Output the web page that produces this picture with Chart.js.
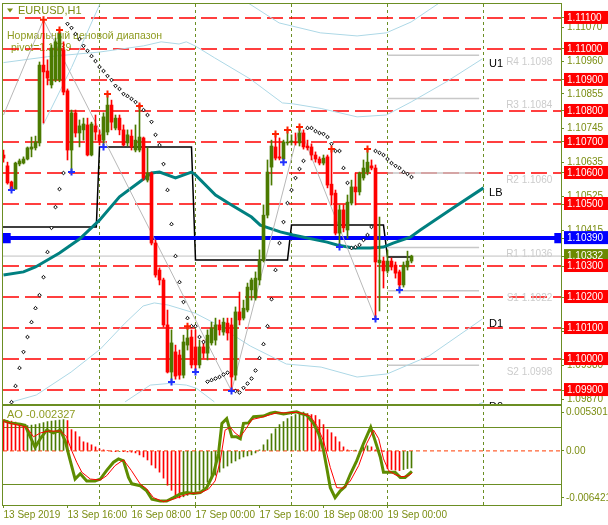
<!DOCTYPE html>
<html>
<head>
<meta charset="utf-8">
<script src="https://cdn.jsdelivr.net/npm/chart.js@4/dist/chart.umd.min.js"></script>
<style>
  html, body { margin: 0; padding: 0; background: #fff; }
  #wrap { position: relative; width: 608px; height: 525px; overflow: hidden; }
  #main { position: absolute; left: 0; top: 0; }
  #osc { position: absolute; left: 0; top: 405px; background: #fff; }
</style>
</head>
<body>
<div id="wrap">
  <canvas id="main" width="608" height="405"></canvas>
  <canvas id="osc" width="608" height="120"></canvas>
</div>
<script>
// EURUSD H1, 13 Sep 00:00 .. 19 Sep 05:00 (bar index 0..102)
const openP = [1.10658,1.10623,1.10571,1.10548,1.10629,1.10632,1.10645,1.10677,1.10681,1.10697,
  1.10948,1.10929,1.10884,1.10900,1.10900,1.10997,1.10865,1.10674,1.10794,1.10729,
  1.10739,1.10755,1.10658,1.10752,1.10723,1.10706,1.10732,1.10819,1.10745,1.10777,
  1.10739,1.10697,1.10719,1.10674,1.10674,1.10713,1.10577,1.10600,1.10374,1.10287,
  1.10255,1.10110,1.09958,1.10023,1.10013,1.09948,1.10045,1.10071,1.10039,1.09981,
  1.10039,1.10019,1.10052,1.10061,1.10110,1.10087,1.10116,1.10110,1.09948,1.10152,
  1.10132,1.10158,1.10223,1.10197,1.10255,1.10319,1.10464,1.10619,1.10684,1.10652,
  1.10645,1.10697,1.10700,1.10700,1.10697,1.10729,1.10687,1.10684,1.10658,1.10645,
  1.10632,1.10652,1.10564,1.10535,1.10406,1.10481,1.10416,1.10503,1.10555,1.10539,
  1.10584,1.10603,1.10623,1.10616,1.10310,1.10316,1.10284,1.10316,1.10303,1.10281,
  1.10239,1.10297,1.10316];
const highP = [1.10674,1.10635,1.10574,1.10635,1.10645,1.10652,1.10684,1.10716,1.10719,1.10958,
  1.11094,1.10965,1.11013,1.11035,1.11061,1.11023,1.10871,1.10803,1.10803,1.10771,
  1.10777,1.10777,1.10764,1.10787,1.10739,1.10794,1.10855,1.10835,1.10787,1.10787,
  1.10755,1.10739,1.10739,1.10755,1.10816,1.10716,1.10681,1.10603,1.10384,1.10294,
  1.10261,1.10158,1.10094,1.10045,1.10029,1.10077,1.10106,1.10094,1.10094,1.10061,
  1.10061,1.10094,1.10119,1.10132,1.10126,1.10132,1.10132,1.10132,1.10168,1.10216,
  1.10190,1.10245,1.10261,1.10281,1.10352,1.10497,1.10642,1.10706,1.10726,1.10713,
  1.10706,1.10739,1.10723,1.10729,1.10748,1.10739,1.10706,1.10694,1.10668,1.10652,
  1.10658,1.10658,1.10677,1.10545,1.10497,1.10497,1.10529,1.10577,1.10600,1.10603,
  1.10642,1.10677,1.10642,1.10626,1.10458,1.10329,1.10352,1.10326,1.10313,1.10287,
  1.10313,1.10348,1.10335];
const lowP = [1.10635,1.10564,1.10545,1.10548,1.10623,1.10629,1.10642,1.10652,1.10674,1.10687,
  1.10761,1.10884,1.10874,1.10894,1.10894,1.10852,1.10642,1.10603,1.10716,1.10684,
  1.10706,1.10655,1.10655,1.10706,1.10690,1.10684,1.10723,1.10739,1.10739,1.10723,
  1.10687,1.10687,1.10674,1.10668,1.10668,1.10577,1.10571,1.10368,1.10264,1.10239,
  1.10103,1.09955,1.09926,1.09935,1.09935,1.09939,1.10029,1.09971,1.09958,1.09971,
  1.10003,1.09997,1.10045,1.10045,1.10077,1.10077,1.10061,1.09897,1.09932,1.10110,
  1.10126,1.10152,1.10190,1.10190,1.10239,1.10313,1.10455,1.10561,1.10642,1.10642,
  1.10635,1.10690,1.10690,1.10690,1.10687,1.10677,1.10674,1.10642,1.10635,1.10626,
  1.10626,1.10552,1.10497,1.10400,1.10361,1.10410,1.10390,1.10497,1.10497,1.10529,
  1.10577,1.10594,1.10610,1.10129,1.10155,1.10229,1.10277,1.10287,1.10261,1.10223,
  1.10232,1.10287,1.10310];
const closeP = [1.10648,1.10568,1.10548,1.10632,1.10639,1.10645,1.10681,1.10684,1.10700,1.10948,
  1.10926,1.10906,1.11003,1.11023,1.11052,1.10861,1.10674,1.10794,1.10729,1.10752,
  1.10758,1.10658,1.10758,1.10732,1.10703,1.10781,1.10819,1.10764,1.10777,1.10739,
  1.10690,1.10723,1.10684,1.10706,1.10716,1.10584,1.10600,1.10374,1.10271,1.10255,
  1.10110,1.09958,1.10052,1.09945,1.09948,1.10055,1.10068,1.09981,1.09981,1.10039,
  1.10019,1.10077,1.10100,1.10110,1.10094,1.10119,1.10084,1.09942,1.10152,1.10126,
  1.10164,1.10232,1.10255,1.10261,1.10319,1.10464,1.10603,1.10687,1.10648,1.10648,
  1.10700,1.10700,1.10703,1.10697,1.10729,1.10684,1.10681,1.10658,1.10645,1.10632,
  1.10648,1.10561,1.10529,1.10406,1.10481,1.10423,1.10506,1.10555,1.10539,1.10600,
  1.10616,1.10635,1.10616,1.10313,1.10319,1.10284,1.10316,1.10297,1.10277,1.10239,
  1.10303,1.10316,1.10332];

// parabolic SAR dots
const sarP = [null,null,1.09861,1.09913,1.09971,1.10023,1.10071,1.10119,1.10164,1.10206,
  1.10264,1.10345,1.10423,1.10490,1.10548,1.10600,1.11081,1.11068,1.11048,1.11032,
  1.11010,1.10994,1.10977,1.10961,1.10942,1.10929,1.10913,1.10900,1.10881,1.10871,
  1.10855,1.10848,1.10839,1.10829,1.10816,1.10803,1.10787,1.10765,1.10723,1.10690,
  1.10629,1.10545,1.10435,1.10332,1.10248,1.10184,1.10132,1.10106,1.10106,1.10071,
  1.10055,1.09927,1.09932,1.09937,1.09942,1.09950,1.09956,null,1.09897,1.09892,
  1.09907,1.09921,1.09937,1.09963,1.10003,1.10048,1.10106,1.10193,1.10287,1.10374,
  1.10442,1.10503,1.10545,1.10584,1.10613,1.10639,1.10745,1.10745,1.10735,1.10729,
  1.10726,1.10716,1.10694,1.10671,1.10671,1.10616,1.10568,1.10358,1.10361,1.10368,
  1.10384,1.10400,1.10426,1.10671,1.10665,1.10658,1.10645,1.10632,1.10623,1.10616,
  1.10603,1.10597,1.10587];

const fractUpIdx = [10,14,26,34,46,68,71,74,82,91];
const fractDnIdx = [2,17,25,42,48,57,70,84,93,99];

// moving average and channel lines: [bar index, price]
const maLine = [[0,1.10271],[5,1.10281],[8,1.10297],[14,1.10342],[19,1.10387],[24,1.10448],[29,1.10523],
  [34,1.10571],[37,1.10600],[39,1.10603],[43,1.10584],[47,1.10603],[48,1.10594],[53,1.10529],[57,1.10497],
  [62,1.10458],[64.2,1.10432],[69.2,1.10410],[72.4,1.10400],[80.9,1.10377],[83.4,1.10368],[87.4,1.10358],
  [91.7,1.10358],[95,1.10361],[97.4,1.10374],[101.7,1.10393],[104.2,1.10416],[112,1.10484],[120,1.10552]];
const bandU1 = [[0,1.10956],[11,1.10975],[24,1.10990],[35,1.11010],[39.4,1.11023],[43.9,1.11016],[45.7,1.11023],
  [47.9,1.11010],[52.7,1.10972],[61.7,1.10903],[69.7,1.10826],[72.4,1.10823],[79.4,1.10808],[88.4,1.10781],
  [95.7,1.10787],[101.9,1.10829],[110.7,1.10894],[119.7,1.10968]];
const bandU2 = [[9.9,1.10755],[17,1.10940],[24.2,1.11148],[27,null],[60.7,1.11152],[68.9,1.11084],[79.2,1.11052],
  [88.4,1.11042],[95.7,1.11052],[101.9,1.11087],[108.9,1.11148]];
const bandD1 = [[1.9,1.09861],[8.2,1.09884],[16.9,1.09958],[24.2,1.10032],[30.4,1.10116],[34.9,1.10171],
  [37.7,1.10181],[41.2,1.10174],[47.9,1.10148],[52.7,1.10116],[61.7,1.10042],[70.7,1.09984],[79.4,1.09974],
  [88.4,1.09942],[95.9,1.09952],[106.4,1.10010],[119.7,1.10129]];
const bandD0 = [[30.4,1.09862],[36.7,1.09916],[41.2,1.09921],[45.7,1.09916],[48.2,1.09906],[52.7,1.09862],
  [53,null],[118.9,1.09856],[120,1.09860]];
const dayBox = [[-0.125,1.10426],[23.2,1.10426],[24,1.10684],[47,1.10684],[48,1.10319],[71,1.10319],
  [72,1.10432],[95,1.10432],[96,1.10329],[102,1.10329]];
const zigzag = [[0,1.10787],[10,1.11094],[57,1.09897],[74,1.10748],[93,1.10129]];

const pivotLevels = [1.111,1.110,1.109,1.108,1.107,1.106,1.105,1.103,1.102,1.101,1.100,1.099];
const priceTicks = [1.11070,1.10960,1.10855,1.10745,1.10635,1.10525,1.10415,1.10090,1.09980,1.09870];
const dayPivot = 1.10390;
const lastPrice = 1.10332;
const pivotNames = ['R4','R3','R2','R1','S1','S2'];
const pivotVals = [1.1098,1.1084,1.1060,1.1036,1.1022,1.0998];

const dayLineIdx = [24,48,72,96,120];
const timeTickIdx = [0,16,32,48,64,80,96];
const timeTickLabels = ['13 Sep 2019','13 Sep 16:00','16 Sep 08:00','17 Sep 00:00','17 Sep 16:00','18 Sep 08:00','19 Sep 00:00'];

// Awesome oscillator and stochastic
const aoVals = [0.00427,0.00414,0.00407,0.00393,0.00372,0.00331,0.00345,0.00352,0.00359,0.00372,
  0.00386,0.00400,0.00407,0.00414,0.00421,0.00427,0.00414,0.00290,0.00262,0.00193,
  0.00124,0.00110,0.00083,0.00055,0.00028,0.00014,0.00007,-0.00007,-0.00011,-0.00008,
  -0.00011,-0.00014,-0.00018,-0.00028,-0.00055,-0.00083,-0.00124,-0.00193,-0.00234,-0.00290,
  -0.00372,-0.00469,-0.00538,-0.00607,-0.006421,-0.00627,-0.00607,-0.00579,-0.00565,-0.00538,
  -0.00510,-0.00427,-0.00372,-0.00331,-0.00290,-0.00234,-0.00207,-0.00165,-0.00138,-0.00110,
  -0.00083,-0.00069,-0.00055,-0.00028,0.00014,0.00083,0.00152,0.00234,0.00303,0.00359,
  0.00400,0.00441,0.00469,0.00496,0.00510,0.005301,0.00510,0.00496,0.00483,0.00427,
  0.00359,0.00290,0.00248,0.00193,0.00124,0.00055,0.00014,0.00007,0.00010,-0.00007,
  0.00055,0.00069,0.00055,0.00014,0.00004,-0.00007,-0.00241,-0.00255,-0.00262,-0.00269,
  -0.00255,-0.00241,-0.002327];
const stochMain = [[0,87],[1.7,84.5],[4.2,83],[5.4,82],[6.7,70],[7.9,59],[9.2,68],[10.8,77],[12.5,74],[14.2,77],
  [15.4,66],[16.7,45],[17.9,26],[19.2,31.6],[20.8,24],[22.9,24],[24.2,26],[25.8,35],[27.5,43.5],[28.75,47],
  [30,45],[31.25,27.7],[32.1,21],[34.2,19],[35.8,13.7],[37.1,5],[39.2,3],[40.8,3],[42.5,6.6],[44.2,10.5],
  [45.8,12],[47.5,11],[49.2,12],[50.8,17],[52.5,31.6],[53.75,52.6],[54.6,84],[55.8,89],[57.1,70],[58.3,70],
  [59.2,68],[60,84],[61.25,84.5],[62.5,91],[65,91.6],[66.7,94.7],[67.9,95.5],[70,93.7],[71.7,95],[73.3,96],
  [74.2,94.4],[75.8,92.6],[77.5,84],[78.8,73],[80,56],[80.8,38],[81.7,17],[82.9,6.6],[84.2,13.7],[85.4,18],
  [86.7,31],[88.3,45],[90,63],[91.8,80],[92.9,66],[94.2,49],[95,33],[96.3,33],[97.9,33],[99.2,27.7],
  [100.4,27.7],[102.1,34]];
const stochSignal = [[0,86],[5.8,80],[7.5,70],[9.2,74],[11.25,76],[14.2,76],[15.8,70],[17,56],[18.3,43.5],[19.6,33],
  [21.7,26],[24.2,25],[25.8,29.5],[27.9,40],[30,46],[32,34.7],[34.2,20.7],[35.8,15.8],[37.5,6.6],[40,2.4],
  [42.5,5],[44.6,8.4],[46.7,11],[49.2,11.6],[51.25,15.5],[52.9,24],[54.2,45],[55.4,77],[56.7,80],[57.9,74],
  [59.2,70],[60.4,77],[62.1,88],[64.2,90],[66.7,93],[68.3,95],[70.8,95],[73.3,95.5],[74.2,95],[76.7,91.6],
  [78.3,82],[80,66],[81.7,38],[83.3,17],[85,16.5],[86.7,24],[88.8,40],[90.8,63],[92.5,77],[93.8,68],
  [95,47],[96.3,34.7],[97.9,30.5],[99.6,28.4],[101.3,29.5],[102.1,32]];
const stochLevels = [80, 20];
const aoTickVals = [0.005301, 0, -0.006421];
const aoTickLabels = ['0.005301', '0.00', '-0.006421'];

const XMIN = -0.125, XMAX = 139.375;
const OLIVE = '#6b8e23';
const TXT = '#7b8d12';
const UP = '#4b7a00';
const DN = '#ff0000';

Chart.defaults.font.family = '"Liberation Sans", Arial, sans-serif';
Chart.defaults.font.size = 10;

const toXY = arr => arr.map(p => ({ x: p[0], y: p[1] }));
const near = (a, b) => Math.abs(a - b) < 1e-7;
const candleCol = openP.map((o, i) => closeP[i] >= o ? UP : DN);

function hLines(vals, x0, x1) {
  const out = [];
  vals.forEach(v => out.push({ x: x0, y: v }, { x: x1, y: v }, { x: x1, y: null }));
  return out;
}

function boxColor(v) {
  if (near(v, dayPivot)) return '#0000ff';
  if (near(v, lastPrice)) return '#6b8a00';
  if (pivotLevels.some(p => near(p, v))) return '#ff0000';
  return 'rgba(0,0,0,0)';
}

// keep the plot area where the layout padding puts it
function fitY(width) {
  return s => { s.width = width; s.paddingTop = 0; s.paddingBottom = 0; };
}
function fitX(height) {
  return s => { s.height = height; s.paddingLeft = 0; s.paddingRight = 0; };
}

const framePlugin = {
  id: 'frame',
  afterDraw(chart) {
    const { ctx, chartArea: a } = chart;
    ctx.save();
    ctx.strokeStyle = OLIVE;
    ctx.lineWidth = 1;
    ctx.strokeRect(a.left - 0.5, a.top - 0.5, a.right - a.left + 1, a.bottom - a.top + 1);
    ctx.restore();
  }
};

const mainNotes = {
  id: 'mainNotes',
  beforeDatasetsDraw(chart) {
    const ctx = chart.ctx;
    ctx.save();
    ctx.fillStyle = TXT;
    ctx.beginPath();
    ctx.moveTo(7, 8.5); ctx.lineTo(13, 8.5); ctx.lineTo(10, 12.5); ctx.closePath();
    ctx.fill();
    ctx.font = '11px "Liberation Sans", Arial, sans-serif';
    ctx.textBaseline = 'middle';
    ctx.fillText('EURUSD,H1', 18, 10.5);
    ctx.fillStyle = '#8f9c22';
    ctx.font = '10.5px "Liberation Sans", Arial, sans-serif';
    ctx.fillText('Нормальный ценовой диапазон', 7, 36);
    ctx.fillText('pivot=' + dayPivot.toFixed(4), 11, 48);
    ctx.restore();
  },
  afterDatasetsDraw(chart) {
    const { ctx, scales: { x, y } } = chart;
    ctx.save();
    ctx.font = '10px "Liberation Sans", Arial, sans-serif';
    ctx.fillStyle = '#cccccc';
    ctx.textAlign = 'right';
    ctx.textBaseline = 'top';
    pivotNames.forEach((n, i) => {
      ctx.fillText(n + ' ' + pivotVals[i].toFixed(4), x.getPixelForValue(137.2), y.getPixelForValue(pivotVals[i]) + 2);
    });
    ctx.font = '11px "Liberation Sans", Arial, sans-serif';
    ctx.fillStyle = '#000';
    ctx.textAlign = 'left';
    ctx.textBaseline = 'middle';
    const tags = [['U1', bandU1], ['LB', maLine], ['D1', bandD1], ['D0', bandD0]];
    tags.forEach(([t, line]) => {
      const last = line[line.length - 1];
      ctx.fillText(t, x.getPixelForValue(121.4), y.getPixelForValue(last[1]) + 5);
    });
    ctx.restore();
  }
};

const lineDs = (data, color, width, order, extra) => Object.assign({
  type: 'line', data: data, borderColor: color, borderWidth: width, pointRadius: 0,
  fill: false, tension: 0, order: order, spanGaps: false
}, extra || {});

new Chart('main', {
  type: 'bar',
  data: {
    datasets: [
      lineDs(fractUpIdx.map(i => ({ x: i, y: highP[i] })), DN, 2, 0,
        { showLine: false, pointRadius: 3.5, pointStyle: 'cross', pointBorderColor: '#ff2000', pointBorderWidth: 2 }),
      lineDs(fractDnIdx.map(i => ({ x: i, y: lowP[i] })), '#2030ff', 2, 0,
        { showLine: false, pointRadius: 3.5, pointStyle: 'cross', pointBorderColor: '#2030ff', pointBorderWidth: 2 }),
      lineDs(sarP.map((v, i) => ({ x: i, y: v })), '#000', 1, 1,
        { showLine: false, pointRadius: 1.8, pointStyle: 'rectRot', pointBackgroundColor: '#fff', pointBorderColor: '#000', pointBorderWidth: 1 }),
      { type: 'bar', data: openP.map((o, i) => ({ x: i, y: [o, closeP[i]] })), backgroundColor: candleCol,
        barThickness: 3, minBarLength: 1, grouped: false, borderWidth: 0, order: 2 },
      { type: 'bar', data: lowP.map((l, i) => ({ x: i, y: [l, highP[i]] })), backgroundColor: candleCol,
        barThickness: 1, grouped: false, borderWidth: 0, order: 3 },
      lineDs(toXY(zigzag), '#b8b8b8', 1, 4),
      lineDs(toXY(maLine), '#008080', 3, 5),
      lineDs([{ x: XMIN, y: dayPivot }, { x: 0.5, y: dayPivot }, { x: 139, y: dayPivot }, { x: XMAX, y: dayPivot }], '#0000ff', 4, 6,
        { pointRadius: [0, 4.5, 4.5, 0], pointStyle: 'rect', pointBackgroundColor: '#0000ff', pointBorderColor: '#0000ff' }),
      lineDs(toXY(dayBox), '#000', 1.5, 7),
      lineDs(toXY(bandU1), '#add8e6', 1, 8),
      lineDs(toXY(bandU2), '#add8e6', 1, 8),
      lineDs(toXY(bandD1), '#add8e6', 1, 8),
      lineDs(toXY(bandD0), '#add8e6', 1, 8),
      lineDs([{ x: XMIN, y: lastPrice }, { x: XMAX, y: lastPrice }], '#c0c0c0', 1, 9),
      lineDs(hLines(pivotVals, 96, 118.9), '#c8c8c8', 1.5, 9),
      lineDs(hLines(pivotLevels, XMIN, XMAX), '#ff0000', 1.5, 10, { borderDash: [16, 6] })
    ]
  },
  options: {
    responsive: false,
    animation: false,
    events: [],
    layout: { autoPadding: false, padding: { top: 4, left: 3, right: 0, bottom: 1 } },
    plugins: { legend: { display: false }, tooltip: { enabled: false } },
    scales: {
      x: {
        type: 'linear', min: XMIN, max: XMAX, offset: false, position: 'bottom',
        afterFit: fitX(0),
        afterBuildTicks: s => { s.ticks = dayLineIdx.map(v => ({ value: v })); },
        ticks: { display: false },
        grid: { color: OLIVE, lineWidth: 1, drawTicks: false, offset: false },
        border: { display: false, dash: [3, 3] }
      },
      y: {
        type: 'linear', position: 'right', min: 1.09855, max: 1.11145,
        afterFit: fitY(47),
        afterBuildTicks: s => {
          s.ticks = priceTicks.concat([lastPrice], pivotLevels, [dayPivot]).map(v => ({ value: v }));
        },
        ticks: {
          autoSkip: false, padding: 3,
          font: { size: 10, lineHeight: 1 },
          callback: v => v.toFixed(5),
          color: c => boxColor(c.tick.value) === 'rgba(0,0,0,0)' ? TXT : '#ffffff',
          showLabelBackdrop: true,
          backdropColor: c => boxColor(c.tick.value),
          backdropPadding: { top: 2, bottom: 1, left: 3, right: 8 }
        },
        grid: { drawOnChartArea: false, tickLength: 3, tickColor: OLIVE },
        border: { display: false }
      }
    }
  },
  plugins: [mainNotes, framePlugin]
});

const oscNotes = {
  id: 'oscNotes',
  afterDraw(chart) {
    const ctx = chart.ctx;
    ctx.save();
    ctx.font = '11px "Liberation Sans", Arial, sans-serif';
    ctx.fillStyle = '#8f9c22';
    ctx.textBaseline = 'middle';
    ctx.fillText('AO ' + aoVals[aoVals.length - 1].toFixed(6), 7, 10);
    ctx.restore();
  }
};

const aoCol = aoVals.map((v, i) => i > 0 && v > aoVals[i - 1] ? UP : DN);

new Chart('osc', {
  type: 'bar',
  data: {
    datasets: [
      lineDs(toXY(stochSignal), '#ff0000', 1, 0, { yAxisID: 'st' }),
      lineDs(toXY(stochMain), '#5e8c00', 3, 1, { yAxisID: 'st' }),
      { type: 'bar', data: aoVals.map((v, i) => ({ x: i, y: v })), backgroundColor: aoCol,
        barThickness: 1, grouped: false, borderWidth: 0, yAxisID: 'ao', order: 2 },
      lineDs([{ x: XMIN, y: 0 }, { x: XMAX, y: 0 }], '#ff3c00', 1, 3, { yAxisID: 'ao', borderDash: [4, 3] })
    ]
  },
  options: {
    responsive: false,
    animation: false,
    events: [],
    layout: { autoPadding: false, padding: { top: 1, left: 3, right: 0, bottom: 0 } },
    plugins: { legend: { display: false }, tooltip: { enabled: false } },
    scales: {
      x: {
        type: 'linear', min: XMIN, max: XMAX, offset: false, position: 'bottom',
        afterFit: fitX(20),
        afterBuildTicks: s => { s.ticks = timeTickIdx.map(v => ({ value: v })); },
        ticks: {
          autoSkip: false, maxRotation: 0, minRotation: 0, align: 'start', padding: 1,
          color: TXT, font: { size: 10 }, callback: (v, i) => timeTickLabels[i]
        },
        grid: { drawOnChartArea: false, tickLength: 3, tickColor: OLIVE, offset: false },
        border: { display: false }
      },
      x2: {
        type: 'linear', min: XMIN, max: XMAX, offset: false, position: 'top',
        afterFit: fitX(0),
        afterBuildTicks: s => { s.ticks = dayLineIdx.map(v => ({ value: v })); },
        ticks: { display: false },
        grid: { color: OLIVE, drawTicks: false, offset: false },
        border: { display: false, dash: [3, 3] }
      },
      st: {
        type: 'linear', position: 'right', weight: 0, min: -1.05, max: 102.1,
        afterFit: fitY(0),
        afterBuildTicks: s => { s.ticks = stochLevels.map(v => ({ value: v })); },
        ticks: {
          autoSkip: false, padding: 4, color: '#ffffff', font: { size: 10, lineHeight: 1 },
          showLabelBackdrop: true, backdropColor: '#6b8a00',
          backdropPadding: { top: 2, bottom: 1, left: 2, right: 2 }
        },
        grid: { drawOnChartArea: true, drawTicks: false, color: OLIVE, lineWidth: 1 },
        border: { display: false }
      },
      ao: {
        type: 'linear', position: 'right', weight: 1, min: -0.007386, max: 0.006128,
        afterFit: fitY(47),
        afterBuildTicks: s => { s.ticks = aoTickVals.map(v => ({ value: v })); },
        ticks: { autoSkip: false, padding: 2, color: TXT, font: { size: 10 }, callback: (v, i) => aoTickLabels[i] },
        grid: { drawOnChartArea: false, tickLength: 3, tickColor: OLIVE },
        border: { display: false }
      }
    }
  },
  plugins: [oscNotes, framePlugin]
});
</script>
</body>
</html>
